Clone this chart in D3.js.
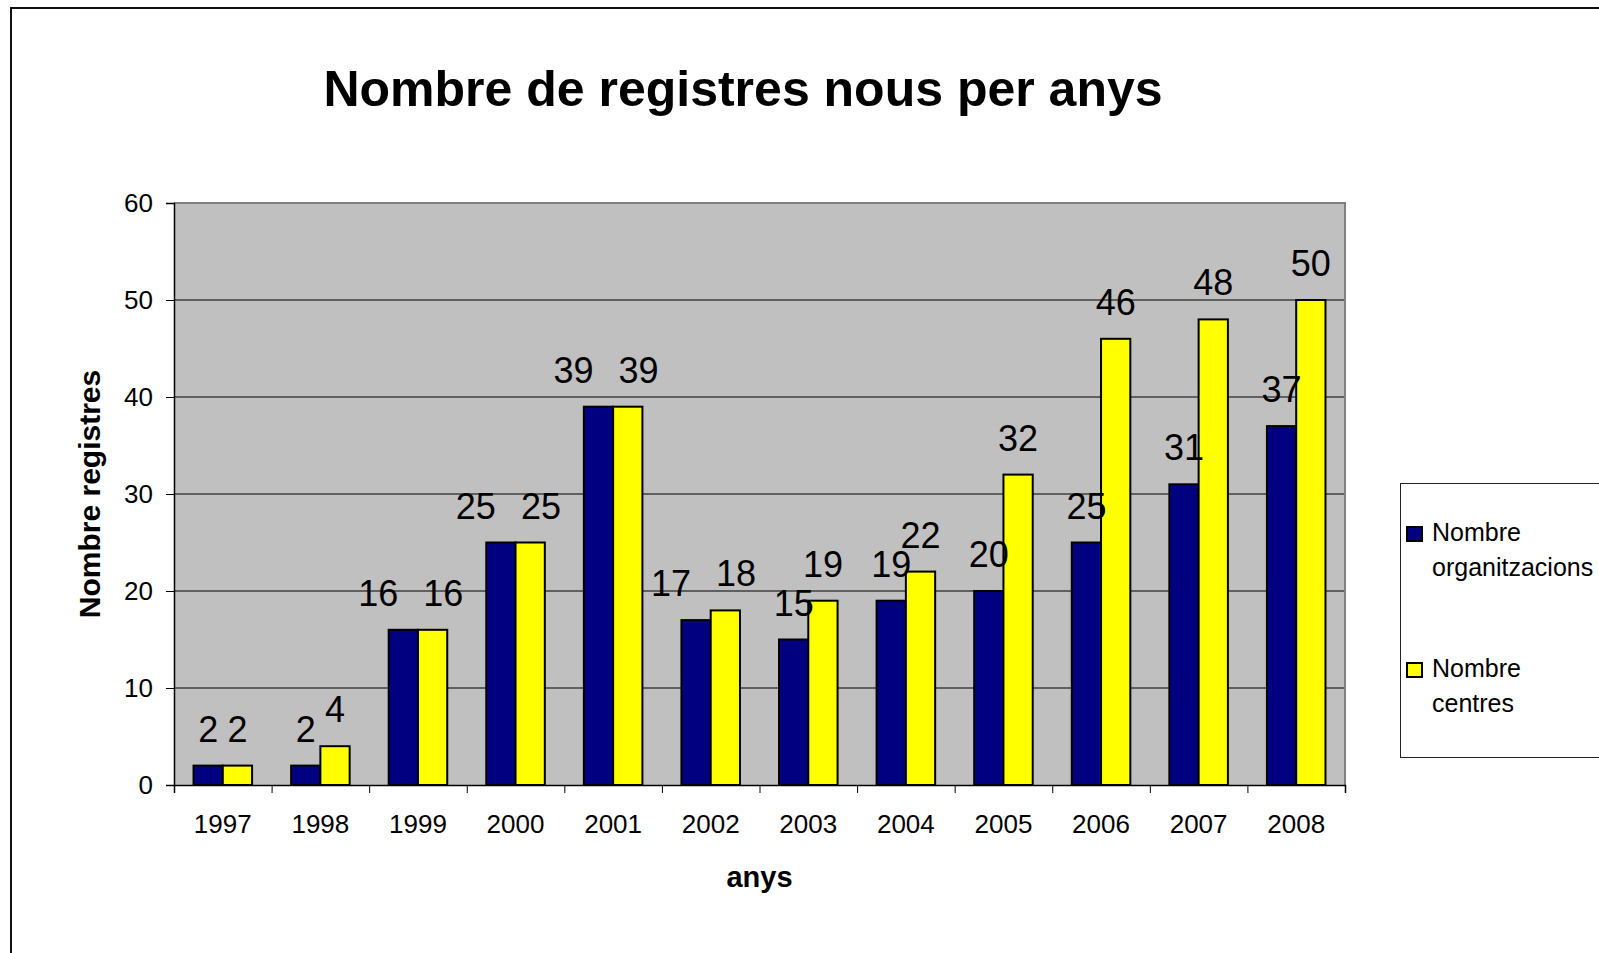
<html>
<script src='https://d3js.org/d3.v7.min.js'></script>
<head>
    <meta charset="UTF-8">
    <style>
        body {
            margin: 0;
            background: #fff;
            overflow: hidden;
        }
        svg {
            display: block;
            font-family: "Liberation Sans", Arial, sans-serif;
        }
    </style>
</head>
<body>
<svg width=1599 height=953></svg>
</body>
<script>
    // values
    const years = ["1997", "1998", "1999", "2000", "2001", "2002", "2003", "2004", "2005", "2006", "2007", "2008"];
    const organitzacions = [2, 2, 16, 25, 39, 17, 15, 19, 20, 25, 31, 37];
    const centres = [2, 4, 16, 25, 39, 18, 19, 22, 32, 46, 48, 50];
    const yTicks = [0, 10, 20, 30, 40, 50, 60];
    const seriesNames = ["Nombre organitzacions", "Nombre centres"];
    const seriesColors = ["#000080", "#ffff00"];

    const margin = {top: 203, right: 254, bottom: 168, left: 174},
          width = 1599 - margin.left - margin.right,
          height = 953 - margin.top - margin.bottom;

    const root = d3.select("svg");

    // outer chart frame (runs off the right and bottom of the window)
    root.append("rect")
        .attr("x", 11).attr("y", 8)
        .attr("width", 1700).attr("height", 1000)
        .style("fill", "none")
        .style("stroke", "#111")
        .style("stroke-width", 2);

    root.append("text")
        .attr("x", 743)
        .attr("y", 106)
        .style("text-anchor", "middle")
        .style("font-size", "50px")
        .style("font-weight", "bold")
        .text("Nombre de registres nous per anys");

    const svg = root.append("g")
        .attr("transform", `translate(${margin.left},${margin.top})`);

    const x0 = d3.scaleBand()
        .domain(years)
        .range([0, width])
        .paddingInner(0.4)
        .paddingOuter(0.2);

    const x1 = d3.scaleBand()
        .domain([0, 1])
        .range([0, x0.bandwidth()]);

    const xEdges = d3.scaleLinear()
        .domain([0, years.length])
        .range([0, width]);

    const y = d3.scaleLinear()
        .domain([0, 60])
        .range([height, 0]);

    // plot background
    svg.append("rect")
        .attr("width", width)
        .attr("height", height)
        .style("fill", "#c0c0c0");

    // grid
    svg.selectAll(".grid")
        .data(yTicks.filter(d => d > 0 && d < 60))
        .enter().append("line")
        .attr("class", "grid")
        .attr("x1", 0).attr("x2", width)
        .attr("y1", d => y(d)).attr("y2", d => y(d))
        .style("stroke", "#000")
        .style("stroke-width", 1);

    // top and right border of the plot area
    svg.append("path")
        .attr("d", `M0,${y(60)}H${width}V${height}`)
        .style("fill", "none")
        .style("stroke", "#808080")
        .style("stroke-width", 2);

    const rows = years.map((yr, i) => ({year: yr, vals: [organitzacions[i], centres[i]]}));

    const groups = svg.selectAll(".year")
        .data(rows)
        .enter().append("g")
        .attr("class", "year")
        .attr("transform", d => `translate(${x0(d.year)},0)`);

    groups.selectAll("rect")
        .data(d => d.vals.map((v, s) => ({s, v})))
        .enter().append("rect")
        .attr("x", d => x1(d.s))
        .attr("y", d => y(d.v))
        .attr("width", x1.bandwidth())
        .attr("height", d => height - y(d.v))
        .style("fill", d => seriesColors[d.s])
        .style("stroke", "#000")
        .style("stroke-width", 2);

    // y axis
    const yAxis = svg.append("g")
        .call(d3.axisLeft(y).tickValues(yTicks).tickSize(8).tickPadding(13));
    yAxis.selectAll("text")
        .style("font-size", "26px")
        .style("fill", "#000")
        .style("font-family", "Liberation Sans, Arial, sans-serif");
    yAxis.selectAll("line").style("stroke", "#000");
    yAxis.select(".domain").style("stroke", "#000").style("stroke-width", 1.5);

    // x axis: ticks sit between the categories
    const xAxis = svg.append("g")
        .attr("transform", `translate(0,${height})`)
        .call(d3.axisBottom(xEdges).tickValues(d3.range(years.length + 1)).tickSize(8).tickFormat(""));
    xAxis.selectAll("line").style("stroke", "#000");
    xAxis.select(".domain").style("stroke", "#000").style("stroke-width", 1.5);

    svg.selectAll(".xlabel")
        .data(years)
        .enter().append("text")
        .attr("class", "xlabel")
        .attr("x", d => x0(d) + x0.bandwidth() / 2)
        .attr("y", height + 48)
        .style("text-anchor", "middle")
        .style("font-size", "26px")
        .text(d => d);

    // data labels, pushed apart only when the two labels of a year overlap
    const labelSize = 36;
    const labelGap = 24;
    rows.forEach(r => {
        const cx = [0, 1].map(s => x0(r.year) + x1(s) + x1.bandwidth() / 2);
        const by = r.vals.map(v => y(v) - labelGap);
        const w = r.vals.map(v => String(v).length * 0.556 * labelSize);
        const half = (w[0] + w[1]) / 2;
        const dist = cx[1] - cx[0];
        if (Math.abs(by[0] - by[1]) < labelSize * 0.75 && dist < half + 2) {
            const extra = half + 25 - dist;
            cx[0] -= extra * 0.7;
            cx[1] += extra * 0.3;
        }
        [0, 1].forEach(s => {
            svg.append("text")
                .attr("x", cx[s])
                .attr("y", by[s])
                .style("text-anchor", "middle")
                .style("font-size", labelSize + "px")
                .text(r.vals[s]);
        });
    });

    // axis titles
    root.append("text")
        .attr("transform", `translate(100,${margin.top + height / 2}) rotate(-90)`)
        .style("text-anchor", "middle")
        .style("font-size", "30px")
        .style("font-weight", "bold")
        .text("Nombre registres");

    root.append("text")
        .attr("x", margin.left + width / 2)
        .attr("y", 887)
        .style("text-anchor", "middle")
        .style("font-size", "29px")
        .style("font-weight", "bold")
        .text("anys");

    // legend
    const legend = root.append("g");
    legend.append("rect")
        .attr("x", 1400.5).attr("y", 483.5)
        .attr("width", 300).attr("height", 274)
        .style("fill", "#fff")
        .style("stroke", "#222")
        .style("stroke-width", 1);

    const legendLines = [["Nombre", "organitzacions"], ["Nombre", "centres"]];
    legendLines.forEach((lines, i) => {
        const top = 527 + i * 136;
        legend.append("rect")
            .attr("x", 1407).attr("y", top)
            .attr("width", 15).attr("height", 14)
            .style("fill", seriesColors[i])
            .style("stroke", "#000")
            .style("stroke-width", 2);
        const t = legend.append("text")
            .attr("x", 1432)
            .attr("y", top + 14)
            .style("font-size", "25px");
        lines.forEach((ln, j) => {
            t.append("tspan")
                .attr("x", 1432)
                .attr("dy", j === 0 ? 0 : 35)
                .text(ln);
        });
    });
</script>
</html>
